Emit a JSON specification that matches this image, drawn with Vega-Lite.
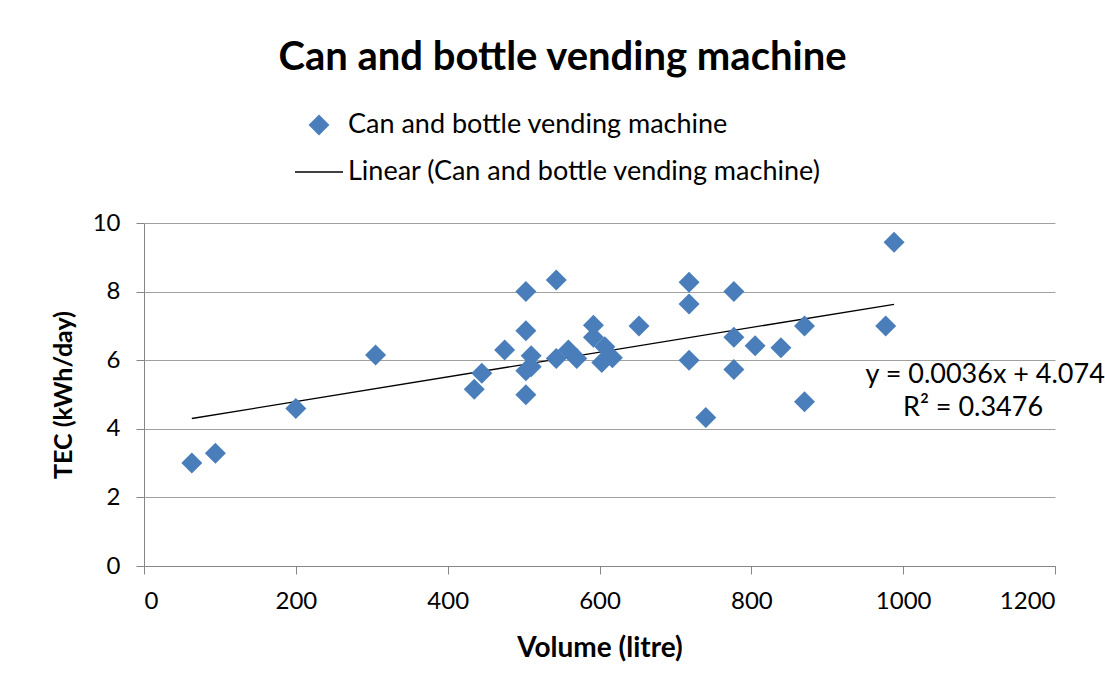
{
  "$schema": "https://vega.github.io/schema/vega-lite/v6.json",
  "width": 911,
  "height": 343,
  "autosize": {"type": "none"},
  "padding": {"left": 144, "top": 223, "right": 50, "bottom": 118},
  "background": "white",
  "config": {
    "font": "Lato",
    "view": {"stroke": null},
    "axis": {"labelFont": "Lato", "titleFont": "Lato"},
    "legend": {"labelFont": "Lato"}
  },
  "title": {
    "text": "Can and bottle vending machine",
    "font": "Lato",
    "fontSize": 40,
    "fontWeight": "bold",
    "color": "#000000",
    "anchor": "middle",
    "dx": -37,
    "offset": 22
  },
  "datasets": {
    "points": [
      {"volume": 63, "tec": 3.0, "series": "Can and bottle vending machine"},
      {"volume": 94, "tec": 3.29, "series": "Can and bottle vending machine"},
      {"volume": 200, "tec": 4.59, "series": "Can and bottle vending machine"},
      {"volume": 305, "tec": 6.15, "series": "Can and bottle vending machine"},
      {"volume": 435, "tec": 5.15, "series": "Can and bottle vending machine"},
      {"volume": 445, "tec": 5.62, "series": "Can and bottle vending machine"},
      {"volume": 475, "tec": 6.3, "series": "Can and bottle vending machine"},
      {"volume": 503, "tec": 8.0, "series": "Can and bottle vending machine"},
      {"volume": 503, "tec": 6.86, "series": "Can and bottle vending machine"},
      {"volume": 503, "tec": 5.69, "series": "Can and bottle vending machine"},
      {"volume": 503, "tec": 4.99, "series": "Can and bottle vending machine"},
      {"volume": 510, "tec": 6.13, "series": "Can and bottle vending machine"},
      {"volume": 510, "tec": 5.81, "series": "Can and bottle vending machine"},
      {"volume": 543, "tec": 8.34, "series": "Can and bottle vending machine"},
      {"volume": 543, "tec": 6.05, "series": "Can and bottle vending machine"},
      {"volume": 559, "tec": 6.3, "series": "Can and bottle vending machine"},
      {"volume": 570, "tec": 6.05, "series": "Can and bottle vending machine"},
      {"volume": 592, "tec": 7.02, "series": "Can and bottle vending machine"},
      {"volume": 592, "tec": 6.67, "series": "Can and bottle vending machine"},
      {"volume": 603, "tec": 5.93, "series": "Can and bottle vending machine"},
      {"volume": 607, "tec": 6.39, "series": "Can and bottle vending machine"},
      {"volume": 617, "tec": 6.07, "series": "Can and bottle vending machine"},
      {"volume": 652, "tec": 7.0, "series": "Can and bottle vending machine"},
      {"volume": 718, "tec": 8.27, "series": "Can and bottle vending machine"},
      {"volume": 718, "tec": 7.64, "series": "Can and bottle vending machine"},
      {"volume": 718, "tec": 6.0, "series": "Can and bottle vending machine"},
      {"volume": 740, "tec": 4.33, "series": "Can and bottle vending machine"},
      {"volume": 777, "tec": 8.0, "series": "Can and bottle vending machine"},
      {"volume": 777, "tec": 6.67, "series": "Can and bottle vending machine"},
      {"volume": 777, "tec": 5.73, "series": "Can and bottle vending machine"},
      {"volume": 805, "tec": 6.42, "series": "Can and bottle vending machine"},
      {"volume": 839, "tec": 6.36, "series": "Can and bottle vending machine"},
      {"volume": 870, "tec": 7.0, "series": "Can and bottle vending machine"},
      {"volume": 870, "tec": 4.79, "series": "Can and bottle vending machine"},
      {"volume": 977, "tec": 7.0, "series": "Can and bottle vending machine"},
      {"volume": 988, "tec": 9.44, "series": "Can and bottle vending machine"}
    ],
    "trend": [
      {"volume": 63, "tec": 4.3, "series": "Linear (Can and bottle vending machine)"},
      {"volume": 988, "tec": 7.63, "series": "Linear (Can and bottle vending machine)"}
    ],
    "labels": [
      {"lx": 1108, "ly": 5.57, "label": "y = 0.0036x + 4.074"},
      {"lx": 1092, "ly": 4.61, "label": "R² = 0.3476"}
    ]
  },
  "layer": [
    {
      "data": {"name": "trend"},
      "mark": {"type": "line", "strokeWidth": 1.3},
      "encoding": {
        "x": {
          "field": "volume",
          "type": "quantitative",
          "scale": {"domain": [0, 1200], "nice": false, "zero": true},
          "axis": {
            "title": "Volume (litre)",
            "values": [0, 200, 400, 600, 800, 1000, 1200],
            "format": "d",
            "grid": false,
            "domainColor": "#868686",
            "tickColor": "#868686",
            "tickSize": 8,
            "labelFontSize": 24,
            "labelColor": "#000000",
            "labelPadding": 15,
            "titleFontSize": 28,
            "titleFontWeight": "bold",
            "titleColor": "#000000",
            "titlePadding": 21
          }
        },
        "y": {
          "field": "tec",
          "type": "quantitative",
          "scale": {"domain": [0, 10], "nice": false},
          "axis": {
            "title": "TEC (kWh/day)",
            "values": [0, 2, 4, 6, 8, 10],
            "grid": true,
            "gridColor": "#A0A0A0",
            "domainColor": "#868686",
            "tickColor": "#868686",
            "tickSize": 8,
            "labelFontSize": 24,
            "labelColor": "#000000",
            "labelPadding": 16,
            "titleFontSize": 25,
            "titleFontWeight": "bold",
            "titleColor": "#000000",
            "titlePadding": 16
          }
        },
        "color": {
          "field": "series",
          "type": "nominal",
          "scale": {
            "domain": ["Can and bottle vending machine", "Linear (Can and bottle vending machine)"],
            "range": ["#4A7EBB", "#000000"]
          },
          "legend": {
            "orient": "none",
            "legendX": 150,
            "legendY": -123,
            "title": null,
            "padding": 0,
            "labelFontSize": 27,
            "labelColor": "#000000",
            "labelLimit": 0,
            "labelOffset": 4,
            "symbolSize": 400,
            "rowPadding": 9,
            "encode": {
              "symbols": {
                "update": {
                  "shape": {"signal": "datum.value === 'Can and bottle vending machine' ? 'diamond' : 'stroke'"},
                  "size": {"signal": "datum.value === 'Can and bottle vending machine' ? 361 : 2304"},
                  "fill": {"signal": "datum.value === 'Can and bottle vending machine' ? '#4A7EBB' : 'transparent'"},
                  "stroke": {"signal": "datum.value === 'Can and bottle vending machine' ? 'transparent' : '#000000'"},
                  "strokeWidth": {"value": 1.3},
                  "opacity": {"value": 1}
                }
              }
            }
          }
        }
      }
    },
    {
      "data": {"name": "points"},
      "mark": {"type": "point", "shape": "diamond", "filled": true, "size": 441, "opacity": 1},
      "encoding": {
        "x": {"field": "volume", "type": "quantitative"},
        "y": {"field": "tec", "type": "quantitative"},
        "color": {"field": "series", "type": "nominal"}
      }
    },
    {
      "data": {"name": "labels"},
      "mark": {"type": "text", "font": "Lato", "fontSize": 27, "align": "center", "baseline": "middle", "color": "#000000"},
      "encoding": {
        "x": {"field": "lx", "type": "quantitative"},
        "y": {"field": "ly", "type": "quantitative"},
        "text": {"field": "label"}
      }
    }
  ]
}
